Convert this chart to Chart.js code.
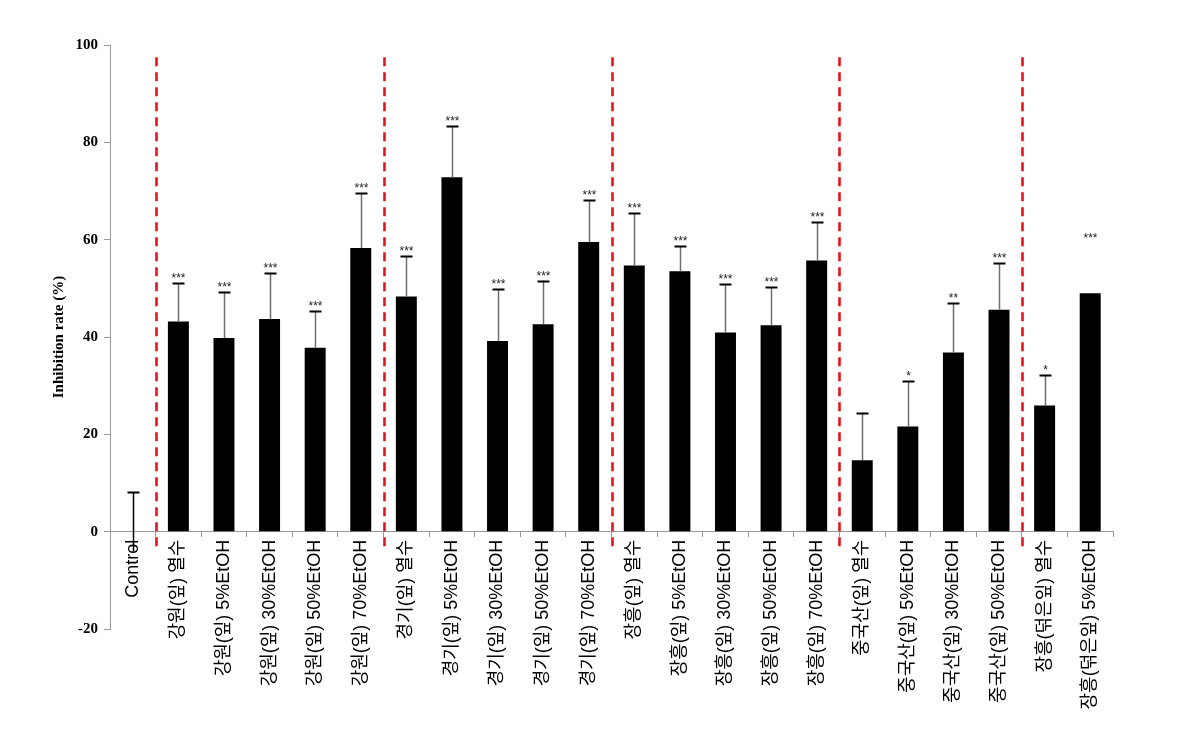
<!DOCTYPE html>
<html><head><meta charset="utf-8">
<script src="https://cdn.jsdelivr.net/npm/chart.js@4"></script>
<style>html,body{margin:0;padding:0;background:#fff}#wrap{width:1179px;height:747px;position:relative}</style>
</head><body><div id="wrap"><canvas id="c" width="1179" height="747"></canvas></div>
<script>
const categories = [
  "Control",
  "강원(잎) 열수","강원(잎) 5%EtOH","강원(잎) 30%EtOH","강원(잎) 50%EtOH","강원(잎) 70%EtOH",
  "경기(잎) 열수","경기(잎) 5%EtOH","경기(잎) 30%EtOH","경기(잎) 50%EtOH","경기(잎) 70%EtOH",
  "장흥(잎) 열수","장흥(잎) 5%EtOH","장흥(잎) 30%EtOH","장흥(잎) 50%EtOH","장흥(잎) 70%EtOH",
  "중국산(잎) 열수","중국산(잎) 5%EtOH","중국산(잎) 30%EtOH","중국산(잎) 50%EtOH",
  "장흥(덖은잎) 열수","장흥(덖은잎) 5%EtOH"
];
const means = [0, 43.2,39.8,43.7,37.8,58.3, 48.3,72.8,39.2,42.6,59.5, 54.7,53.5,40.9,42.4,55.7, 14.7,21.6,36.8,45.6, 25.9,49.0];
const errorsUp = [8.1, 7.9,9.5,9.5,7.6,11.3, 8.3,10.6,10.6,9.0,8.7, 10.7,5.1,9.9,7.8,7.9, 9.7,9.3,10.2,9.6, 6.3,10.3];
const errorsDown = [4, 0,0,0,0,0, 0,0,0,0,0, 0,0,0,0,0, 0,0,0,0, 0,0];
const errorShown = [true, true,true,true,true,true, true,true,true,true,true, true,true,true,true,true, true,true,true,true, true,false];
const significance = ["", "***","***","***","***","***", "***","***","***","***","***", "***","***","***","***","***", "","*","**","***", "*","***"];
const groupStarts = [1, 6, 11, 16, 20];
const yMin = -20, yMax = 100, yStep = 20;
const dividerTop = 97.5, dividerBottom = -3;

const dividerPlugin = {
  id: 'dividers',
  beforeDatasetsDraw(chart) {
    const {ctx, scales: {x, y}} = chart;
    ctx.save();
    ctx.strokeStyle = '#e3141c';
    ctx.lineWidth = 2.6;
    ctx.setLineDash([9, 6]);
    groupStarts.forEach(i => {
      const px = Math.round((x.getPixelForValue(i - 1) + x.getPixelForValue(i)) / 2) + 0.5;
      ctx.beginPath();
      ctx.moveTo(px, y.getPixelForValue(dividerTop));
      ctx.lineTo(px, y.getPixelForValue(dividerBottom));
      ctx.stroke();
    });
    ctx.restore();
  }
};

const errorPlugin = {
  id: 'errorbars',
  afterDatasetsDraw(chart) {
    const {ctx, scales: {x, y}} = chart;
    ctx.save();
    means.forEach((m, i) => {
      const px = Math.round(x.getPixelForValue(i)) + 0.5;
      const top = y.getPixelForValue(m + errorsUp[i]);
      if (errorShown[i]) {
        const bottom = y.getPixelForValue(m - errorsDown[i]);
        ctx.strokeStyle = i === 0 ? '#000' : '#6e6e6e';
        ctx.lineWidth = 1.5;
        ctx.beginPath();
        ctx.moveTo(px, bottom);
        ctx.lineTo(px, top);
        ctx.stroke();
        ctx.strokeStyle = '#000';
        ctx.lineWidth = 2;
        ctx.beginPath();
        ctx.moveTo(px - 6, Math.round(top) + 0.5);
        ctx.lineTo(px + 6, Math.round(top) + 0.5);
        ctx.stroke();
      }
      if (significance[i]) {
        ctx.fillStyle = '#222';
        ctx.font = '12px "Liberation Sans", Arial, sans-serif';
        ctx.textAlign = 'center';
        ctx.textBaseline = 'alphabetic';
        ctx.fillText(significance[i], px, top - 1);
      }
    });
    ctx.restore();
  }
};

new Chart(document.getElementById('c'), {
  type: 'bar',
  data: {
    labels: categories,
    datasets: [{
      data: means,
      backgroundColor: '#000',
      borderWidth: 0,
      barPercentage: 0.46,
      categoryPercentage: 1.0
    }]
  },
  options: {
    responsive: false,
    animation: false,
    devicePixelRatio: 1,
    layout: { padding: { top: 45, bottom: 118, left: 0, right: 66 } },
    plugins: { legend: { display: false }, tooltip: { enabled: false } },
    scales: {
      x: {
        position: { y: 0 },
        afterFit(scale) { scale.height = 0; },
        grid: { drawOnChartArea: false, drawTicks: true, tickLength: 5, color: '#999', offset: true },
        border: { display: true, color: '#999', width: 1 },
        ticks: {
          autoSkip: false, minRotation: 90, maxRotation: 90, padding: 3,
          color: '#000',
          font: { family: '"Liberation Sans", "Noto Sans CJK KR", sans-serif', size: 18 }
        }
      },
      y: {
        min: yMin, max: yMax,
        afterFit(scale) { scale.width = 110; },
        grid: { drawOnChartArea: false, drawTicks: true, tickLength: 6, color: '#999' },
        border: { display: true, color: '#999', width: 1 },
        ticks: {
          stepSize: yStep, padding: 6, color: '#000',
          font: { family: '"Liberation Serif", "Times New Roman", serif', size: 15, weight: 'bold' }
        },
        title: {
          display: true, text: 'Inhibition rate (%)', color: '#000',
          padding: { top: 50, bottom: 0 },
          font: { family: '"Liberation Serif", "Times New Roman", serif', size: 15, weight: 'bold' }
        }
      }
    }
  },
  plugins: [dividerPlugin, errorPlugin]
});
</script></body></html>
